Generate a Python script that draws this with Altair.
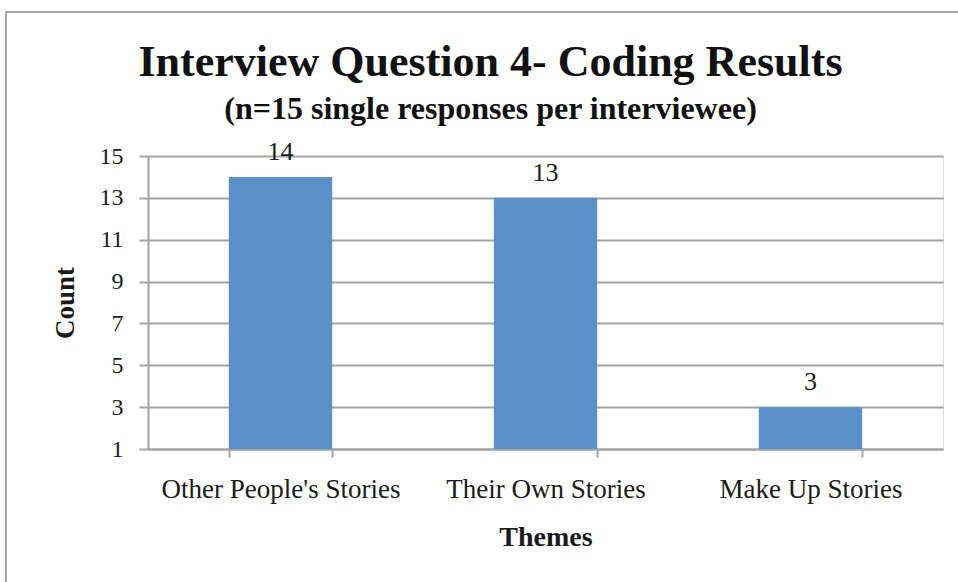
import altair as alt
import pandas as pd

themes = ["Other People's Stories", "Their Own Stories", "Make Up Stories"]
counts = [14, 13, 3]
y_ticks = [1, 3, 5, 7, 9, 11, 13, 15]

df = pd.DataFrame({"Themes": themes, "Count": counts})

FONT = "Liberation Serif"
GRID = "#a3a3a3"

base = alt.Chart(df)

x_enc = alt.X(
    "Themes:N",
    sort=themes,
    title="Themes",
    scale=alt.Scale(paddingInner=0.61, paddingOuter=0.305),
    axis=alt.Axis(
        labelAngle=0,
        labelFontSize=27,
        labelFont=FONT,
        labelColor="#1a1a1a",
        labelPadding=19,
        labelLimit=0,
        tickBand="extent",
        tickSize=8,
        tickColor=GRID,
        tickWidth=2,
        domainColor=GRID,
        domainWidth=2,
        grid=False,
        titleFont=FONT,
        titleFontSize=28,
        titleFontWeight="bold",
        titleColor="#1a1a1a",
        titlePadding=21,
    ),
)

y_enc = alt.Y(
    "Count:Q",
    title="Count",
    scale=alt.Scale(domain=[1, 15], zero=False, nice=False),
    axis=alt.Axis(
        values=y_ticks,
        labelFontSize=24,
        labelFont=FONT,
        labelColor="#1a1a1a",
        labelPadding=16,
        tickSize=9,
        tickColor=GRID,
        tickWidth=2,
        domainColor=GRID,
        domainWidth=2,
        grid=True,
        gridColor=GRID,
        gridWidth=2,
        titleFont=FONT,
        titleFontSize=27,
        titleFontWeight="bold",
        titleColor="#1a1a1a",
        titlePadding=20,
    ),
)

bars = base.mark_bar(color="#5A90C8").encode(x=x_enc, y=y_enc, y2=alt.datum(1))

labels = base.mark_text(
    baseline="alphabetic", dy=-17, fontSize=26, font=FONT, color="#1a1a1a"
).encode(x=alt.X("Themes:N", sort=themes), y="Count:Q", text="Count:Q")

border = alt.Chart(pd.DataFrame({"a": [0]})).mark_rect(
    fill=None, stroke="#a8a8a8", strokeWidth=2
).encode(
    x=alt.value(-142), y=alt.value(-144), x2=alt.value(900), y2=alt.value(600)
)

chart = (
    alt.layer(border, bars, labels)
    .properties(
        width=795,
        height=293,
        autosize=alt.AutoSizeParams(type="none"),
        padding={"left": 148, "top": 156, "right": 15, "bottom": 133},
        title=alt.TitleParams(
            text="Interview Question 4- Coding Results",
            subtitle="(n=15 single responses per interviewee)",
            font=FONT,
            fontSize=44,
            fontWeight="bold",
            color="#111111",
            subtitleFont=FONT,
            subtitleFontSize=32,
            subtitleFontWeight="bold",
            subtitleColor="#111111",
            subtitlePadding=9,
            anchor="middle",
            dx=-55,
            dy=136,
            offset=22,
        ),
    )
    .configure_view(stroke=None)
    .configure(background="white")
)

chart.save("out.html", embed_options={"renderer": "svg", "actions": False})
